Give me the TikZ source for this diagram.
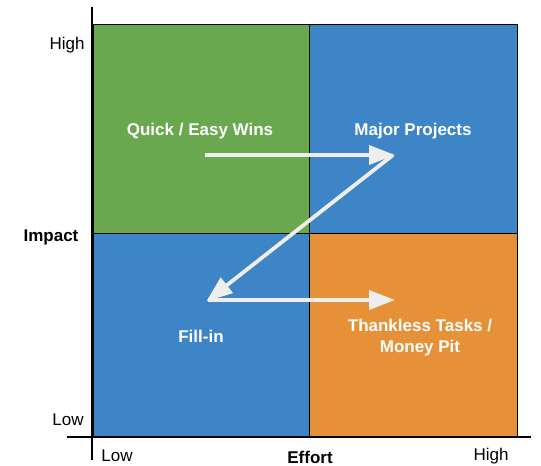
\documentclass[tikz,border=0pt]{standalone}
\usepackage{fontspec}
\setmainfont{Liberation Sans}
\usetikzlibrary{arrows.meta}
\definecolor{qgreen}{HTML}{6AA84F}
\definecolor{qblue}{HTML}{3D85C6}
\definecolor{qorange}{HTML}{E69138}
\definecolor{flow}{HTML}{EEEEEE}
\begin{document}
\begin{tikzpicture}[x=1pt,y=-1pt,
  quad/.style={draw=black,line width=0.8pt},
  qlabel/.style={text=white,font=\fontsize{17}{21}\selectfont\bfseries,align=center},
  axlabel/.style={font=\fontsize{17}{21}\selectfont},
  axtitle/.style={font=\fontsize{17}{21}\selectfont\bfseries},
  axis/.style={line width=2.6pt,black},
  flowarrow/.style={draw=flow,line width=3.8pt,-{Triangle[length=26pt,width=19pt]},shorten >=-2pt}]
\useasboundingbox (0,0) rectangle (541,466);
% quadrants
\filldraw[quad,fill=qgreen] (93,24) rectangle (309,233);
\filldraw[quad,fill=qblue] (309,24) rectangle (517,233);
\filldraw[quad,fill=qblue] (93,233) rectangle (309,436);
\filldraw[quad,fill=qorange] (309,233) rectangle (517,436);
% axes
\coordinate (ytop) at (92,7);
\coordinate (ybot) at (92,460);
\coordinate (xl) at (67,437);
\coordinate (xr) at (531,437);
\draw[axis] (ytop) -- (ybot);
\draw[axis] (xl) -- (xr);
% axis labels
\node[axlabel] (yhigh) at (67,45) {High};
\node[axlabel] (ylow) at (68,420) {Low};
\node[axtitle] (impact) at (51,237) {Impact};
\node[axlabel] (xlow) at (117,456) {Low};
\node[axtitle] (effort) at (310,457) {Effort};
\node[axlabel] (xhigh) at (491,456) {High};
% quadrant labels
\node[qlabel] (quick) at (200,131) {Quick / Easy Wins};
\node[qlabel] (major) at (413,131) {Major Projects};
\node[qlabel] (fill) at (201,336) {Fill-in};
\node[qlabel] (thankless) at (420,338) {Thankless Tasks /\\Money Pit};
% flow arrows
\coordinate (p1) at (205,155);
\coordinate (p2) at (393,155);
\coordinate (p3) at (208,300);
\coordinate (p4) at (393,300);
\draw[flowarrow] (p1) -- (p2);
\draw[flowarrow] (p2) -- (p3);
\draw[flowarrow] (p3) -- (p4);
\end{tikzpicture}
\end{document}
